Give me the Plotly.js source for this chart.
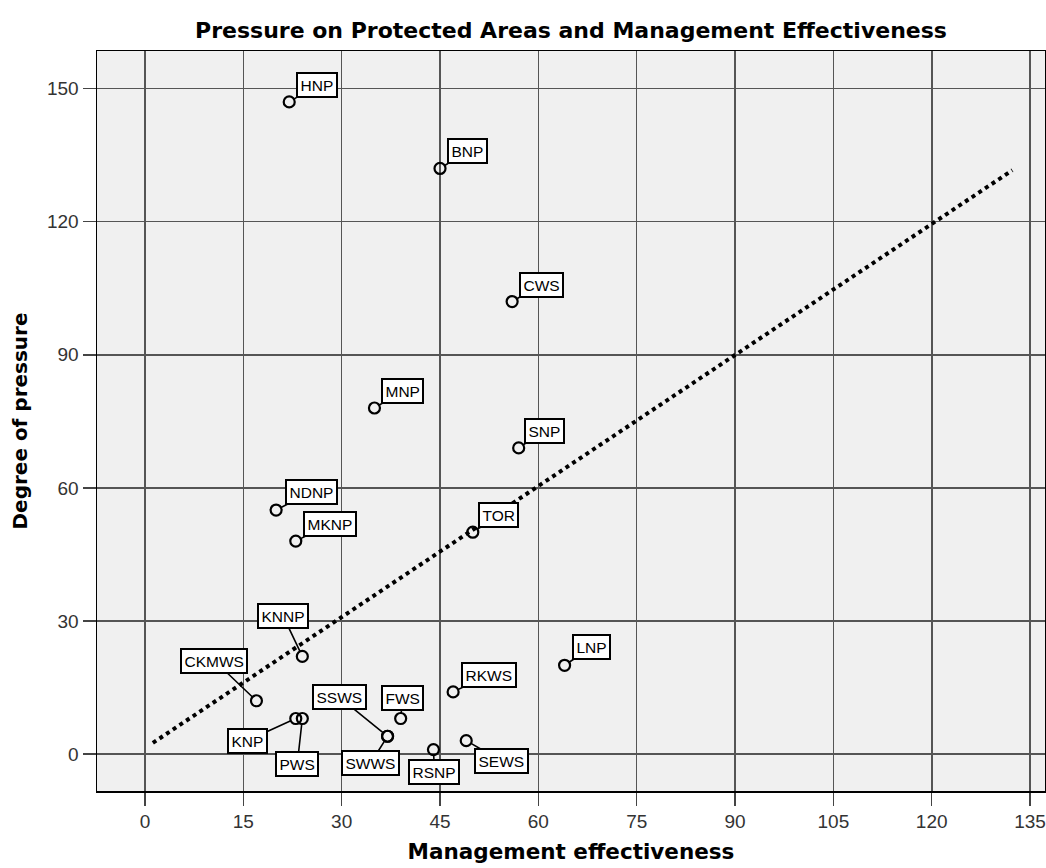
<!DOCTYPE html>
<html>
<head>
<meta charset="utf-8">
<script src="https://cdn.plot.ly/plotly-3.0.1.min.js"></script>
<style>
  html, body { margin: 0; padding: 0; background: #ffffff; }
  #chart { width: 1046px; height: 868px; }
</style>
</head>
<body>
<div id="chart"></div>
<script>
// ---- data ----
const areaNames = ['HNP','BNP','CWS','MNP','SNP','NDNP','TOR','MKNP','KNNP','LNP','CKMWS','RKWS','FWS','KNP','PWS','SSWS','SWWS','SEWS','RSNP'];
const effectiveness = [22,45,56,35,57,20,50,23,24,64,17,47,39,23,24,37,37,49,44];
const pressure = [147,132,102,78,69,55,50,48,22,20,12,14,8,8,8,4,4,3,1];
const trendX = [1.2, 132.3];
const trendY = [2.5, 131.6];
const xTicks = [0,15,30,45,60,75,90,105,120,135];
const yTicks = [0,30,60,90,120,150];

// ---- label placement (pixel offsets of label boxes from points) ----
const labelOffsets = {
  HNP:[28,-17], BNP:[27,-17], CWS:[29,-17], MNP:[28,-17], SNP:[26,-17],
  NDNP:[35,-18], TOR:[26,-17], MKNP:[34,-17], KNNP:[-19,-40], LNP:[27,-18],
  CKMWS:[-42,-40], RKWS:[36,-17], FWS:[2,-21], KNP:[-48,22], PWS:[-5,45],
  SSWS:[-48,-39], SWWS:[-17,27], SEWS:[35,20], RSNP:[1,22]
};

const labelFont = {family: 'Arial, "Liberation Sans", sans-serif', size: 15.5, color: '#000'};
const annotations = areaNames.map((n, i) => ({
  x: effectiveness[i], y: pressure[i], xref: 'x', yref: 'y',
  text: n, showarrow: true, arrowhead: 0, arrowwidth: 1.6, arrowcolor: '#000',
  ax: labelOffsets[n][0], ay: labelOffsets[n][1], standoff: 5.5,
  bgcolor: '#ffffff', bordercolor: '#000', borderwidth: 2, borderpad: 2.5,
  font: labelFont
}));

const traces = [
  {
    x: trendX, y: trendY, type: 'scatter', mode: 'lines',
    line: {color: '#000', width: 4, dash: '4px,4px'},
    hoverinfo: 'skip', showlegend: false
  },
  {
    x: effectiveness, y: pressure, text: areaNames, type: 'scatter', mode: 'markers',
    marker: {symbol: 'circle-open', size: 11, color: '#000', line: {width: 2.2, color: '#000'}},
    showlegend: false
  }
];

const tickFont = {family: 'Arial, "Liberation Sans", sans-serif', size: 19, color: '#333'};
const titleFontFamily = '"DejaVu Sans", Verdana, sans-serif';

const layout = {
  width: 1046, height: 868,
  margin: {l: 97, r: 1, t: 51, b: 77, pad: 0},
  paper_bgcolor: '#ffffff',
  plot_bgcolor: '#f0f0f0',
  showlegend: false,
  title: {
    text: 'Pressure on Protected Areas and Management Effectiveness',
    font: {family: titleFontFamily, size: 22, color: '#000', weight: 'bold'},
    x: 0.5, xref: 'paper', xanchor: 'center',
    y: 1 - 30/868, yref: 'container', yanchor: 'middle'
  },
  xaxis: {
    range: [-7.32, 137.28],
    tickmode: 'array', tickvals: xTicks, ticktext: xTicks.map(String),
    ticks: 'outside', ticklen: 13, tickwidth: 1.5, tickcolor: '#444',
    tickfont: tickFont,
    showgrid: true, gridcolor: '#555555', gridwidth: 1.6,
    zeroline: false,
    showline: true, mirror: true, linecolor: '#000', linewidth: 1.5,
    title: {text: 'Management effectiveness', font: {family: titleFontFamily, size: 21.5, color: '#000', weight: 'bold'}, standoff: 12}
  },
  yaxis: {
    range: [-8.34, 158.48],
    tickmode: 'array', tickvals: yTicks, ticktext: yTicks.map(String),
    ticks: 'outside', ticklen: 13, tickwidth: 1.5, tickcolor: '#444',
    tickfont: tickFont,
    showgrid: true, gridcolor: '#555555', gridwidth: 1.6,
    zeroline: false,
    showline: true, mirror: true, linecolor: '#000', linewidth: 1.5,
    title: {text: 'Degree of pressure', font: {family: titleFontFamily, size: 20, color: '#000', weight: 'bold'}, standoff: 14}
  },
  annotations: annotations
};

Plotly.newPlot('chart', traces, layout, {displayModeBar: false, staticPlot: true});
</script>
</body>
</html>
